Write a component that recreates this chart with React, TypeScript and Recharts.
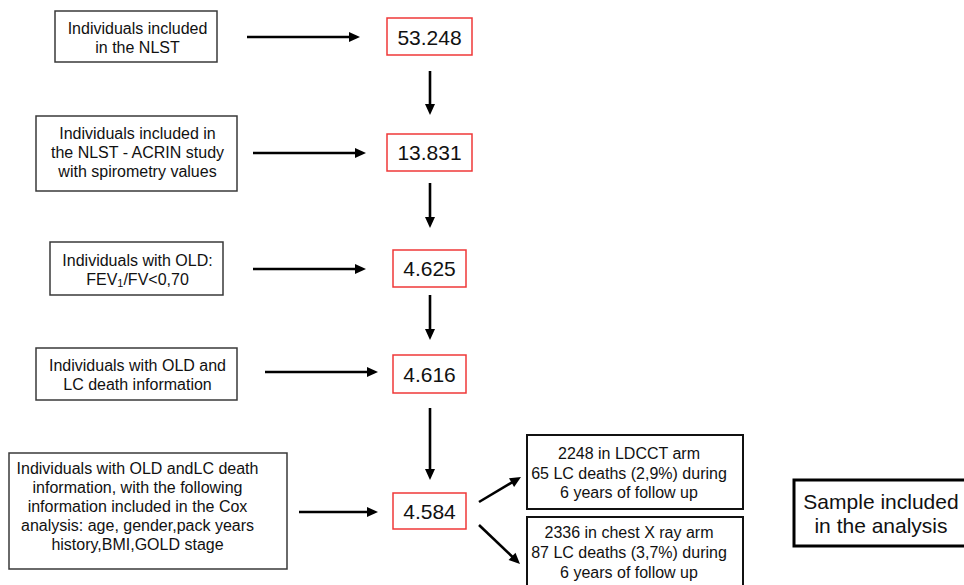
import React from 'react';
import { ScatterChart, Scatter, XAxis, YAxis, ReferenceArea, ReferenceLine } from 'recharts';

const W = 964;
const H = 585;
const FONT = '"Liberation Sans", Arial, Helvetica, sans-serif';

// ---- data ----
const stepLabels: string[][] = [
  ['Individuals included', 'in the NLST'],
  ['Individuals included in', 'the NLST - ACRIN study', 'with spirometry values'],
  ['Individuals with OLD:', 'FEV_{1}/FV<0,70'],
  ['Individuals with OLD and', 'LC death information'],
  [
    'Individuals with OLD andLC death',
    'information, with the following',
    'information included in the Cox',
    'analysis: age, gender,pack years',
    'history,BMI,GOLD stage',
  ],
];
const stepCounts: number[] = [53248, 13831, 4625, 4616, 4584];
const armLabels: string[][] = [
  ['2248 in LDCCT arm', '65 LC deaths (2,9%) during', '6 years of follow up'],
  ['2336 in chest X ray arm', '87 LC deaths (3,7%) during', '6 years of follow up'],
];
const legendLabel: string[] = ['Sample included', 'in the analysis'];

// ---- layout (pixel-like data units: x right, y down) ----
const stepBoxes = [
  [55, 11, 217, 62],
  [36, 116, 237, 191],
  [50, 242, 223, 295],
  [36, 348, 237, 400],
  [9, 453, 287, 569],
];
const stepTextPos = [
  [137.5, 38],
  [137.5, 152.5],
  [137.5, 269.5],
  [137.5, 374.5],
  [137.5, 506],
];
const countBoxes = [
  [387, 18, 472, 55],
  [387, 134, 472, 171],
  [393, 250, 466, 287],
  [393, 355, 466, 393],
  [393, 493, 466, 529],
];
const countTextPos = [
  [429.5, 37],
  [429.5, 152.5],
  [429.5, 268.5],
  [429.5, 374],
  [429.5, 511.5],
];
const armBoxes = [
  [527, 435, 743, 509],
  [527, 517, 743, 590],
];
const armTextPos = [
  [629, 473],
  [629, 552.5],
];
const legendBox = [794, 480, 975, 546];
const legendTextPos = [881, 513];
const arrows = [
  [247, 37, 360, 37],
  [253, 153, 366, 153],
  [253, 269, 366, 269],
  [265, 372, 378, 372],
  [299, 512, 378, 512],
  [430, 71, 430, 115],
  [430, 183, 430, 228],
  [430, 295, 430, 340],
  [430, 408, 430, 480],
  [479, 502, 521, 477],
  [479, 525, 520, 564],
];

const fmt = (n: number) => String(n).replace(/\B(?=(\d{3})+(?!\d))/g, '.');

type TextNode = { x: number; y: number; lines: string[]; size: number; gap: number };

const stepText: TextNode[] = stepLabels.map((lines, i) => ({
  x: stepTextPos[i][0], y: stepTextPos[i][1], lines, size: 16, gap: 19,
}));
const countText: TextNode[] = stepCounts.map((c, i) => ({
  x: countTextPos[i][0], y: countTextPos[i][1], lines: [fmt(c)], size: 21, gap: 24,
}));
const armText: TextNode[] = armLabels.map((lines, i) => ({
  x: armTextPos[i][0], y: armTextPos[i][1], lines, size: 16, gap: 19.7,
}));
const legendText: TextNode[] = [
  { x: legendTextPos[0], y: legendTextPos[1], lines: legendLabel, size: 21, gap: 24 },
];

const renderLine = (s: string, size: number) => {
  const parts = s.split(/_\{(.*?)\}/);
  if (parts.length === 1) return s;
  const out: React.ReactNode[] = [];
  parts.forEach((p, i) => {
    if (i % 2 === 1) {
      out.push(
        <tspan key={i} fontSize={size * 0.68} dy={4}>
          {p}
        </tspan>
      );
    } else if (p) {
      out.push(
        <tspan key={i} dy={i > 0 ? -4 : 0}>
          {p}
        </tspan>
      );
    }
  });
  return out;
};

const TextShape = (props: any) => {
  const { cx, cy, payload } = props;
  const node: TextNode = payload;
  const n = node.lines.length;
  return (
    <g>
      {node.lines.map((l, i) => (
        <text
          key={i}
          x={cx}
          y={cy + (i - (n - 1) / 2) * node.gap}
          textAnchor="middle"
          dominantBaseline="central"
          fontFamily={FONT}
          fontSize={node.size}
          fill="#111"
        >
          {renderLine(l, node.size)}
        </text>
      ))}
    </g>
  );
};

const ArrowShape = (p: any) => {
  const { x1, y1, x2, y2 } = p;
  const ang = Math.atan2(y2 - y1, x2 - x1);
  const L = 11;
  const hw = 5;
  const bx = x2 - L * Math.cos(ang);
  const by = y2 - L * Math.sin(ang);
  const px = -Math.sin(ang) * hw;
  const py = Math.cos(ang) * hw;
  return (
    <g>
      <line x1={x1} y1={y1} x2={bx + Math.cos(ang)} y2={by + Math.sin(ang)} stroke="#000" strokeWidth={2.6} />
      <polygon points={`${x2},${y2} ${bx + px},${by + py} ${bx - px},${by - py}`} fill="#000" />
    </g>
  );
};

export default function App() {
  return (
    <div style={{ width: W, height: H, background: '#fff' }}>
      <style>{'body{margin:0;background:#fff}'}</style>
      <ScatterChart width={W} height={H} margin={{ top: 0, right: 0, bottom: 0, left: 0 }}>
        <XAxis type="number" dataKey="x" domain={[0, W]} allowDataOverflow hide />
        <YAxis type="number" dataKey="y" domain={[0, H]} allowDataOverflow reversed hide />
        {stepBoxes.map((b, i) => (
          <ReferenceArea
            key={'s' + i}
            x1={b[0]} x2={b[2]} y1={b[1]} y2={b[3]}
            ifOverflow="visible"
            fill="none" fillOpacity={0}
            stroke="#3a3a3a" strokeWidth={1.5} strokeOpacity={1}
          />
        ))}
        {countBoxes.map((b, i) => (
          <ReferenceArea
            key={'c' + i}
            x1={b[0]} x2={b[2]} y1={b[1]} y2={b[3]}
            ifOverflow="visible"
            fill="none" fillOpacity={0}
            stroke="#f03838" strokeWidth={1.5} strokeOpacity={1}
          />
        ))}
        {armBoxes.map((b, i) => (
          <ReferenceArea
            key={'a' + i}
            x1={b[0]} x2={b[2]} y1={b[1]} y2={b[3]}
            ifOverflow="visible"
            fill="none" fillOpacity={0}
            stroke="#111" strokeWidth={2} strokeOpacity={1}
          />
        ))}
        <ReferenceArea
          x1={legendBox[0]} x2={legendBox[2]} y1={legendBox[1]} y2={legendBox[3]}
          ifOverflow="visible"
          fill="none" fillOpacity={0}
          stroke="#000" strokeWidth={3} strokeOpacity={1}
        />
        {arrows.map((a, i) => (
          <ReferenceLine
            key={'r' + i}
            segment={[{ x: a[0], y: a[1] }, { x: a[2], y: a[3] }]}
            ifOverflow="visible"
            stroke="#000"
            shape={ArrowShape}
          />
        ))}
        <Scatter data={stepText} shape={TextShape} isAnimationActive={false} />
        <Scatter data={countText} shape={TextShape} isAnimationActive={false} />
        <Scatter data={armText} shape={TextShape} isAnimationActive={false} />
        <Scatter data={legendText} shape={TextShape} isAnimationActive={false} />
      </ScatterChart>
    </div>
  );
}
